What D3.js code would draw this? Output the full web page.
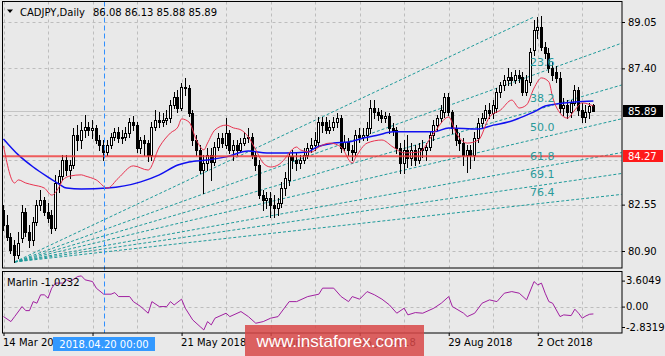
<!DOCTYPE html>
<html><head><meta charset="utf-8">
<script src="https://cdn.jsdelivr.net/npm/d3@7"></script>
<style>
html,body{margin:0;padding:0;background:#e9e9e9;}
svg{display:block;font-family:"DejaVu Sans",sans-serif;}
</style></head><body>
<svg id="c" width="665" height="356"></svg>
<script>
// ---------- DATA ----------
const opens=[82.36,81.83,81.40,81.11,80.76,81.36,82.29,81.58,81.29,81.93,
82.54,82.72,82.29,82.18,81.72,83.32,83.57,84.14,83.78,83.96,
85.03,84.85,85.21,85.31,85.21,85.28,84.85,84.67,84.42,84.67,
84.96,85.14,84.92,84.96,85.10,85.49,85.38,84.57,84.85,84.74,
84.32,85.31,85.56,85.49,85.56,85.63,86.10,86.38,85.99,86.74,
86.70,85.81,84.85,84.50,83.78,84.03,84.32,84.07,84.60,84.92,
84.67,85.10,84.50,84.67,84.50,84.74,84.92,84.96,84.32,83.96,
82.89,82.72,82.79,82.54,82.43,82.61,83.14,83.43,84.28,84.14,
84.03,84.14,84.32,84.57,84.67,84.78,85.49,85.49,85.21,85.31,
85.49,85.63,84.57,84.78,84.50,84.42,85.03,84.96,85.03,85.28,
85.99,85.85,85.74,85.63,85.71,85.28,85.21,84.57,84.03,84.50,
84.21,84.50,84.14,84.57,84.50,84.60,85.03,85.38,85.63,85.85,
86.38,85.85,85.28,84.85,84.74,84.32,84.50,84.32,84.92,85.46,
85.63,85.92,85.81,85.99,86.56,86.81,86.99,87.09,86.99,87.16,
87.09,86.56,86.92,88.05,88.77,88.87,88.16,87.95,87.41,87.27,
87.06,85.99,86.10,85.85,86.17,86.63,85.92,85.67,85.85,86.08];
const highs=[82.54,82.18,81.54,81.29,81.58,82.54,82.43,81.83,82.11,82.72,
83.07,82.82,82.61,82.36,83.61,83.78,84.32,84.32,84.14,85.28,
85.38,85.49,85.74,85.49,85.56,85.38,85.03,84.85,84.85,85.10,
85.28,85.31,85.21,85.31,85.63,85.71,85.49,84.96,85.03,84.85,
85.49,85.92,85.85,85.81,85.92,86.27,86.56,86.63,86.88,87.06,
86.81,85.92,85.03,84.67,84.32,84.57,84.57,84.78,85.10,85.10,
85.63,85.21,84.85,84.85,84.92,85.14,85.28,85.10,84.42,84.14,
83.07,83.00,83.00,82.89,82.79,83.36,83.71,84.42,84.50,84.42,
84.32,84.57,84.74,84.92,85.14,85.67,85.67,85.67,85.56,85.67,
85.81,85.74,85.03,84.92,84.67,85.21,85.28,85.28,85.49,86.27,
86.27,85.99,85.92,85.85,85.81,85.46,85.31,84.74,84.85,85.03,
84.74,84.67,84.74,84.85,84.74,85.14,85.56,85.74,86.10,86.52,
86.52,85.92,85.38,85.10,84.92,84.67,84.67,85.14,85.63,85.81,
86.10,86.17,86.27,86.70,86.92,87.16,87.41,87.27,87.34,87.34,
87.27,87.16,88.12,89.12,89.23,89.26,88.34,88.12,87.63,87.48,
87.27,86.35,86.27,86.27,86.81,86.74,86.17,86.10,86.17,86.13];
const lows=[81.65,81.29,80.83,80.51,80.65,81.22,81.43,81.04,81.11,81.83,
82.36,82.18,81.93,81.54,81.65,83.00,83.43,83.61,83.50,83.85,
84.50,84.57,84.96,85.03,84.92,84.74,84.50,84.14,84.32,84.57,
84.85,84.78,84.74,84.85,84.96,85.21,84.42,84.39,84.32,84.10,
84.14,85.21,85.31,85.35,85.42,85.49,85.99,85.85,85.92,86.45,
85.71,84.67,84.32,83.68,82.97,83.78,83.43,83.96,84.50,84.60,
84.57,84.39,84.14,84.32,84.42,84.67,84.78,84.21,83.78,82.79,
82.36,82.43,82.11,82.11,82.18,82.47,82.89,83.25,83.85,83.78,
83.85,84.03,84.21,84.42,84.50,84.67,85.14,85.10,85.10,85.21,
85.31,84.42,84.50,84.32,84.14,84.32,84.78,84.85,84.85,85.10,
85.63,85.56,85.49,85.49,85.10,85.03,84.39,83.68,83.68,83.89,
83.96,83.96,84.03,84.25,84.14,84.50,84.85,85.21,85.49,85.67,
85.74,85.10,84.67,84.50,83.96,83.71,83.85,84.14,84.78,85.31,
85.56,85.63,85.63,85.85,86.38,86.63,86.81,86.81,86.88,86.92,
86.45,86.45,86.81,87.88,88.48,88.05,87.77,87.27,86.99,86.92,
85.85,85.74,85.63,85.67,86.10,85.74,85.49,85.49,85.63,85.88];
const closes=[81.83,81.40,80.94,80.76,81.19,82.29,81.58,81.29,81.93,82.54,
82.72,82.29,82.08,81.72,83.32,83.57,84.14,83.78,83.96,85.03,
84.85,85.21,85.31,85.21,85.28,84.85,84.67,84.42,84.67,84.96,
85.14,84.92,84.96,85.10,85.49,85.38,84.57,84.85,84.74,84.32,
85.31,85.56,85.49,85.56,85.63,86.10,86.38,85.99,86.74,86.70,
85.81,84.85,84.50,83.78,84.03,84.32,84.07,84.60,84.92,84.74,
85.10,84.50,84.67,84.50,84.74,84.92,84.96,84.32,83.96,82.89,
82.72,82.79,82.54,82.43,82.61,83.14,83.50,84.28,84.14,84.03,
84.14,84.32,84.57,84.67,84.85,85.49,85.38,85.21,85.31,85.49,
85.63,84.57,84.78,84.50,84.42,85.03,84.96,85.03,85.28,85.99,
85.85,85.74,85.63,85.71,85.28,85.21,84.57,84.03,84.50,84.21,
84.50,84.14,84.57,84.50,84.60,85.03,85.38,85.63,85.92,86.38,
85.85,85.28,84.85,84.74,84.32,84.50,84.32,84.92,85.46,85.63,
85.92,85.81,86.10,86.56,86.81,86.99,87.09,86.99,87.16,87.06,
86.56,86.99,87.98,88.77,88.87,88.16,87.95,87.41,87.16,87.06,
85.99,86.10,85.85,86.17,86.63,85.92,85.67,85.85,86.06,85.89];

// fast MA (red) and slow MA (blue): [bar, price]
const redMA=[[0,84.64],[3,83.32],[4,83.43],[6,83.32],[8,83.25],[11,83.14],[13,82.89],[15,83.18],[16,83.43],[18,83.57],[21,83.61],[22,83.57],[25,83.43],[28,83.14],[31,83.50],[35,83.93],[39,83.78],[42,84.60],[45,85.10],[47,85.31],[48,85.60],[50,85.49],[52,84.85],[54,84.50],[55,84.74],[57,85.21],[60,85.38],[62,85.28],[64,85.21],[66,84.96],[68,84.50],[70,84.03],[72,83.89],[74,83.96],[76,84.21],[77,84.39],[79,84.60],[80,84.50],[83,84.42],[85,84.60],[88,84.74],[91,84.60],[94,84.03],[95,84.25],[98,84.74],[102,84.85],[105,84.60],[108,84.39],[112,84.42],[116,85.10],[120,85.67],[122,85.10],[125,84.74],[128,84.85],[131,85.67],[134,85.92],[137,86.27],[139,85.99],[141,86.10],[143,86.70],[145,87.06],[147,86.92],[148,86.38],[150,85.81],[152,85.63],[154,85.92],[156,86.17],[159,86.06]];
const blueMA=[[0,84.89],[4,84.32],[8,83.89],[12,83.53],[15,83.28],[17,83.14],[21,83.11],[28,83.14],[37,83.36],[42,83.61],[47,83.96],[50,84.07],[55,84.14],[60,84.25],[66,84.46],[71,84.39],[76,84.39],[82,84.42],[84,84.57],[89,84.74],[93,84.78],[97,84.92],[101,85.03],[105,85.14],[112,85.14],[116,85.14],[120,85.28],[128,85.24],[132,85.38],[136,85.49],[139,85.63],[143,85.85],[146,86.06],[149,86.13],[154,86.20],[159,86.24]];
// Marlin oscillator: [bar, value]
const marlin=[[0,-1.39],[2,-2.08],[3,-1.39],[5,0.00],[6,-0.56],[7,-0.56],[8,0.69],[9,0.47],[10,1.63],[11,1.63],[12,1.17],[13,2.56],[14,3.26],[16,3.26],[17,3.71],[18,3.47],[20,4.17],[21,4.26],[22,3.71],[24,3.47],[25,2.56],[27,1.72],[29,1.72],[30,1.94],[31,1.39],[34,1.39],[35,0.69],[37,0.00],[39,-0.92],[40,0.69],[42,0.00],[44,0.00],[45,0.69],[46,0.23],[48,1.03],[49,-0.22],[51,-1.85],[53,-2.78],[54,-3.24],[55,-2.08],[56,-2.54],[57,-1.61],[60,-0.92],[61,-1.39],[64,-0.69],[66,-1.39],[68,-2.31],[70,-2.08],[72,-1.61],[74,-1.39],[77,0.69],[79,0.69],[82,1.39],[85,1.72],[86,2.56],[89,2.56],[91,1.39],[93,0.69],[94,1.39],[96,1.03],[98,2.08],[100,1.63],[102,1.03],[104,0.24],[106,-0.92],[108,-0.22],[109,-1.15],[111,-0.83],[113,-0.92],[116,-0.22],[118,0.47],[120,1.39],[121,0.00],[124,-0.92],[125,-1.39],[127,-0.92],[129,0.47],[131,0.93],[133,0.69],[135,1.86],[137,2.08],[139,1.86],[141,0.93],[143,3.47],[144,3.01],[145,3.25],[146,1.86],[147,0.69],[148,0.47],[150,-1.39],[151,-1.15],[153,-1.25],[154,-0.36],[155,-0.92],[156,-1.61],[157,-1.29],[158,-1.06],[159,-1.02]];

const priceTicks=[89.05,87.40,82.55,80.90];
const gridPrices=[89.05,87.40,85.75,84.15,82.55,80.90];
const gridBars=[0,12,24,36,48,60,72,84,96,108,120,132,144,156];
const dateBars=[0,24,48,72,96,120,144];
const dateLabels=["14 Mar 2018","","21 May 2018","22 Jun 2018","26 Jul 2018","29 Aug 2018","2 Oct 2018"];
const marlinTicks=[3.6049,0,-2.8319];
const marlinTickLabels=["3.6049","0.00","-2.8319"];
const fanLevels=[0,23.6,38.2,50.0,61.8,69.1,76.4];
const fanLabels=["","23.6","38.2","50.0","61.8","69.1","76.4"];
const fanLowBar=3, fanLowPrice=80.51, fanHighBar=143, fanHighPrice=89.23;
const hLinePrice=84.27, bidPrice=85.89;
const crossBar=27, crossLabel="2018.04.20 00:00";
const title="CADJPY,Daily", ohlcText="86.08 86.13 85.88 85.89", marlinTitle="Marlin -1.0232";

// ---------- LAYOUT ----------
const svg=d3.select("#c");
const L=2.5, R=622, T=1.5, B=268, IT=271.5, IB=333;
const x=d3.scaleLinear().domain([0,159]).range([3.5,593.4]);
const y=d3.scaleLinear().domain([80.90,89.05]).range([251.0,22.0]);
const ym=d3.scaleLinear().domain([-2.8319,3.6049]).range([327.0,280.6]);

svg.append("rect").attr("width",665).attr("height",356).attr("fill","#e9e9e9");
const defs=svg.append("defs");
defs.append("clipPath").attr("id","cm").append("rect").attr("x",L+0.5).attr("y",T+0.5).attr("width",R-L-1).attr("height",B-T-1);
defs.append("clipPath").attr("id","ci").append("rect").attr("x",L+0.5).attr("y",IT+0.5).attr("width",R-L-1).attr("height",IB-IT-1);

const gm=svg.append("g").attr("clip-path","url(#cm)");
const gi=svg.append("g").attr("clip-path","url(#ci)");
const gridCol="#bdbdbd";
gm.selectAll(".hg").data(gridPrices).enter().append("line")
 .attr("x1",L).attr("x2",R).attr("y1",d=>Math.round(y(d))+0.5).attr("y2",d=>Math.round(y(d))+0.5)
 .attr("stroke",gridCol).attr("stroke-dasharray","3,3");
gm.selectAll(".vg").data(gridBars).enter().append("line")
 .attr("x1",d=>Math.round(x(d))+0.5).attr("x2",d=>Math.round(x(d))+0.5).attr("y1",T).attr("y2",B)
 .attr("stroke",gridCol).attr("stroke-dasharray","3,3");
gi.selectAll(".vg").data(gridBars).enter().append("line")
 .attr("x1",d=>Math.round(x(d))+0.5).attr("x2",d=>Math.round(x(d))+0.5).attr("y1",IT).attr("y2",IB)
 .attr("stroke",gridCol).attr("stroke-dasharray","3,3");
gi.append("line").attr("x1",L).attr("x2",R).attr("y1",Math.round(ym(0))+0.5).attr("y2",Math.round(ym(0))+0.5)
 .attr("stroke",gridCol).attr("stroke-dasharray","3,3");

// bid line
gm.append("line").attr("x1",L).attr("x2",R).attr("y1",Math.round(y(bidPrice))+0.5).attr("y2",Math.round(y(bidPrice))+0.5)
 .attr("stroke","#c4c4c4");

// fan rays (level 0 is the trend segment ending at the high)
const fx1=x(fanLowBar), fy1=y(fanLowPrice), fx2=x(fanHighBar);
const fanCol="#1f9a9a";
const fanPts=fanLevels.map(lv=>y(fanHighPrice-lv/100*(fanHighPrice-fanLowPrice)));
fanPts.forEach((fy2,k)=>{
  const s=(fy2-fy1)/(fx2-fx1);
  const xe=fanLevels[k]===0?fx2:660;
  gm.append("line").attr("x1",fx1).attr("y1",fy1).attr("x2",xe).attr("y2",fy1+s*(xe-fx1))
    .attr("stroke",fanCol).attr("stroke-width",1).attr("stroke-dasharray","3,2");
});

// candles
const idx=d3.range(closes.length);
const cg=gm.append("g");
idx.forEach(i=>{
  const cx=x(i), X=Math.round(cx-1.5);
  const o=opens[i], c=closes[i];
  cg.append("line").attr("x1",X+1.5).attr("x2",X+1.5).attr("y1",Math.round(y(highs[i]))).attr("y2",Math.round(y(lows[i]))+1)
    .attr("stroke","#000").attr("stroke-width",1);
  const top=Math.round(y(Math.max(o,c))), bot=Math.round(y(Math.min(o,c)));
  if(c>=o){
    cg.append("rect").attr("x",X+0.5).attr("y",top+0.5).attr("width",2).attr("height",Math.max(bot-top,1))
      .attr("fill","#ffffff").attr("stroke","#000").attr("stroke-width",1);
  } else {
    cg.append("rect").attr("x",X).attr("y",top).attr("width",3).attr("height",Math.max(bot-top,1)+1).attr("fill","#000");
  }
});

// moving averages
const ln=d3.line().x(d=>x(d[0])).y(d=>y(d[1])).curve(d3.curveMonotoneX);
gm.append("path").attr("d",ln(blueMA)).attr("fill","none").attr("stroke","#1010f0").attr("stroke-width",1.5);
gm.append("path").attr("d",ln(redMA)).attr("fill","none").attr("stroke","#e8324f").attr("stroke-width",1);

// horizontal line 84.27
gm.append("line").attr("x1",L).attr("x2",R).attr("y1",y(hLinePrice)).attr("y2",y(hLinePrice))
 .attr("stroke","#f03a3a").attr("stroke-width",2).attr("opacity",0.8);

// fan level labels (on top)
fanPts.forEach((fy2,k)=>{
  if(fanLabels[k]) gm.append("text").attr("x",fx2-4).attr("y",fy2-8.5).text(fanLabels[k])
    .attr("fill","#2a9a9a").attr("font-size",11);
});

// marlin
const lm=d3.line().x(d=>x(d[0])).y(d=>ym(d[1]));
gi.append("path").attr("d",lm(marlin)).attr("fill","none").attr("stroke","#a01fa0").attr("stroke-width",1);

// crosshair
svg.append("line").attr("x1",Math.round(x(crossBar))+0.5).attr("x2",Math.round(x(crossBar))+0.5).attr("y1",T).attr("y2",IB)
 .attr("stroke","#2f8fff").attr("stroke-dasharray","5,3");

// panel borders
svg.append("rect").attr("x",L).attr("y",T).attr("width",R-L).attr("height",B-T).attr("fill","none").attr("stroke","#000");
svg.append("rect").attr("x",L).attr("y",IT).attr("width",R-L).attr("height",IB-IT).attr("fill","none").attr("stroke","#000");

// price axis
const pa=svg.append("g").attr("transform",`translate(${R},0)`)
 .call(d3.axisRight(y).tickValues(priceTicks).tickFormat(d3.format(".2f")).tickSize(3).tickPadding(3));
pa.select(".domain").remove();
pa.selectAll("text").attr("font-size",10).attr("font-family","DejaVu Sans").attr("fill","#000");
pa.selectAll("line").attr("stroke","#000");

// marlin axis
const ma=svg.append("g").attr("transform",`translate(${R},0)`)
 .call(d3.axisRight(ym).tickValues(marlinTicks).tickFormat((d,i)=>marlinTickLabels[i]).tickSize(3).tickPadding(1));
ma.select(".domain").remove();
ma.selectAll("text").attr("font-size",10).attr("font-family","DejaVu Sans").attr("fill","#000");
ma.selectAll("line").attr("stroke","#000");

// value boxes
function box(p,fill,txt){
  const yy=Math.round(y(p));
  svg.append("rect").attr("x",R+1).attr("y",yy-6).attr("width",40).attr("height",12).attr("fill",fill);
  svg.append("text").attr("x",R+6).attr("y",yy+4).text(txt).attr("fill","#fff").attr("font-size",10);
}
box(bidPrice,"#000",d3.format(".2f")(bidPrice));
box(hLinePrice,"#ff1a1a",d3.format(".2f")(hLinePrice));

// time axis
const ta=svg.append("g").attr("transform",`translate(0,${IB})`)
 .call(d3.axisBottom(x).tickValues(dateBars).tickFormat((d,i)=>dateLabels[i]).tickSize(3).tickPadding(3));
ta.select(".domain").remove();
ta.selectAll("line").attr("stroke","#000");
ta.selectAll("text").attr("text-anchor","start").attr("dx",-1).attr("font-size",10).attr("font-family","DejaVu Sans").attr("fill","#000");

// crosshair date label
const cx0=Math.round(x(crossBar));
svg.append("rect").attr("x",cx0-51).attr("y",337).attr("width",102).attr("height",14).attr("fill","#3399ff");
svg.append("text").attr("x",cx0).attr("y",348).attr("text-anchor","middle").text(crossLabel).attr("fill","#fff").attr("font-size",10);

// titles
svg.append("path").attr("d","M7,9.5 L13,9.5 L10,13 Z").attr("fill","#000");
svg.append("text").attr("x",20).attr("y",16).text(title).attr("font-size",10);
svg.append("text").attr("x",93).attr("y",16).text(ohlcText).attr("font-size",10);
svg.append("text").attr("x",7).attr("y",286).text(marlinTitle).attr("font-size",10);

// watermark
svg.append("rect").attr("x",245).attr("y",325).attr("width",179).attr("height",31).attr("fill","#d84848").attr("opacity",0.85);
svg.append("text").attr("x",332).attr("y",347).attr("text-anchor","middle").text("www.instaforex.com")
 .attr("fill","#fff").attr("font-size",17).attr("font-family","Liberation Sans, Arial, sans-serif");
</script>
</body></html>
